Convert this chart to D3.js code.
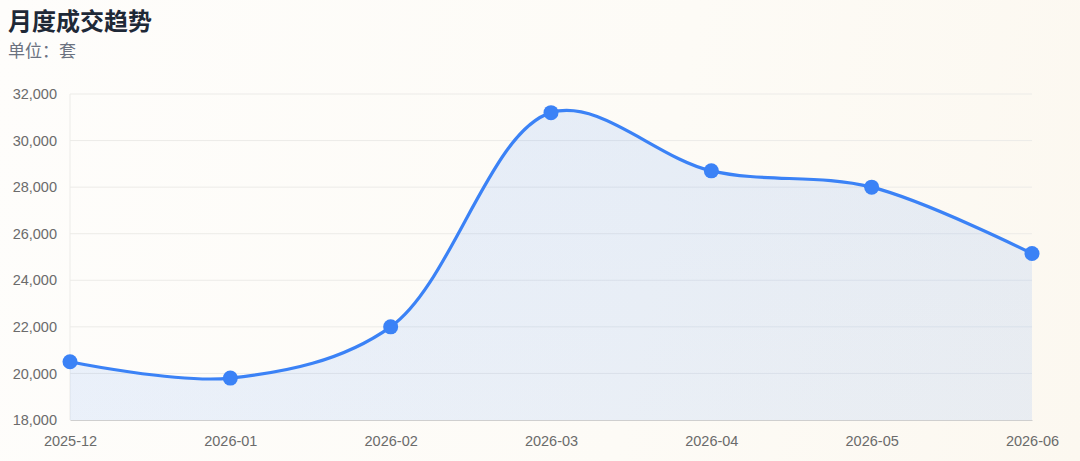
<!DOCTYPE html>
<html>
<head>
<meta charset="utf-8">
<script src="https://cdn.jsdelivr.net/npm/d3@7"></script>
<style>
  html, body { margin: 0; padding: 0; }
  body {
    width: 1080px; height: 461px; overflow: hidden;
    background: linear-gradient(100deg, #fefdfb 0%, #fdfbf6 60%, #fcf8f0 100%);
    font-family: "Noto Sans CJK SC", "Noto Sans", sans-serif;
  }
  .axis text { font-family: "Liberation Sans", Arial, sans-serif; }
</style>
</head>
<body>
<svg id="chart"></svg>
<script>
// data
const months = ['2025-12', '2026-01', '2026-02', '2026-03', '2026-04', '2026-05', '2026-06'];
const deals = [20500, 19800, 22000, 31200, 28700, 28000, 25150];
const yTicks = [18000, 20000, 22000, 24000, 26000, 28000, 30000, 32000];

const config = {
  width: 1080,
  height: 461,
  margin: { top: 94, right: 48, bottom: 41, left: 70 }
};

const svg = d3.select('#chart')
  .attr('width', config.width)
  .attr('height', config.height);

const width = config.width - config.margin.left - config.margin.right;
const height = config.height - config.margin.top - config.margin.bottom;

// title
svg.append('text')
  .attr('x', 8).attr('y', 30)
  .style('font-size', '24px')
  .style('font-weight', 'bold')
  .style('fill', '#1f2937')
  .text('月度成交趋势');

svg.append('text')
  .attr('x', 8).attr('y', 57)
  .style('font-size', '17px')
  .style('fill', '#6b7280')
  .text('单位：套');

const defs = svg.append('defs');
const grad = defs.append('linearGradient')
  .attr('id', 'areaFill')
  .attr('x1', 0).attr('y1', 0).attr('x2', 0).attr('y2', 1);
grad.append('stop').attr('offset', '0%').attr('stop-color', '#3b82f6').attr('stop-opacity', 0.12);
grad.append('stop').attr('offset', '100%').attr('stop-color', '#3b82f6').attr('stop-opacity', 0.10);

const chart = svg.append('g')
  .attr('transform', `translate(${config.margin.left},${config.margin.top})`);

const xScale = d3.scalePoint()
  .domain(months)
  .range([0, width]);

const yScale = d3.scaleLinear()
  .domain([18000, 32000])
  .range([height, 0]);

// grid
chart.append('g')
  .selectAll('line')
  .data(yTicks.slice(1))
  .join('line')
  .attr('x1', 0).attr('x2', width)
  .attr('y1', d => yScale(d)).attr('y2', d => yScale(d))
  .attr('stroke', '#ecebe8')
  .attr('stroke-width', 1);

// left axis line
chart.append('line')
  .attr('x1', 0).attr('x2', 0)
  .attr('y1', 0).attr('y2', height)
  .attr('stroke', '#ecebe8');

const data = months.map((m, i) => ({ month: m, value: deals[i] }));
const curve = d3.curveCatmullRom.alpha(0.5);

const area = d3.area()
  .x(d => xScale(d.month))
  .y0(height)
  .y1(d => yScale(d.value))
  .curve(curve);

const line = d3.line()
  .x(d => xScale(d.month))
  .y(d => yScale(d.value))
  .curve(curve);

chart.append('path')
  .datum(data)
  .attr('d', area)
  .attr('fill', 'url(#areaFill)');

chart.append('path')
  .datum(data)
  .attr('d', line)
  .attr('fill', 'none')
  .attr('stroke', '#3b82f6')
  .attr('stroke-width', 3.2);

// axes
const yAxis = d3.axisLeft(yScale)
  .tickValues(yTicks)
  .tickFormat(d3.format(','))
  .tickSize(0)
  .tickPadding(13);

const yAxisG = chart.append('g')
  .attr('class', 'axis y-axis')
  .call(yAxis);
yAxisG.select('.domain').remove();
yAxisG.selectAll('text')
  .style('font-size', '14.5px')
  .style('fill', '#6b6b6b');

const xAxis = d3.axisBottom(xScale)
  .tickSize(0)
  .tickPadding(16);

const xAxisG = chart.append('g')
  .attr('class', 'axis x-axis')
  .attr('transform', `translate(0,${height})`)
  .call(xAxis);
xAxisG.select('.domain')
  .attr('stroke', '#cfcfcf');
xAxisG.selectAll('text')
  .style('font-size', '14.5px')
  .style('fill', '#6b6b6b');

// points
chart.selectAll('circle')
  .data(data)
  .join('circle')
  .attr('cx', d => xScale(d.month))
  .attr('cy', d => yScale(d.value))
  .attr('r', 7.5)
  .attr('fill', '#3b82f6');
</script>
</body>
</html>
